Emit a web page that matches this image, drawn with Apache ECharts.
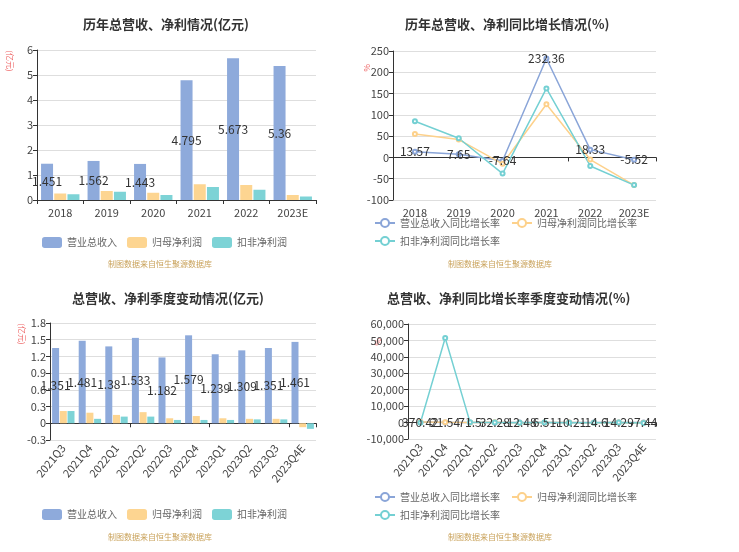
<!DOCTYPE html>
<html><head><meta charset="utf-8">
<script src="https://cdn.jsdelivr.net/npm/echarts@6/dist/echarts.min.js"></script>
<style>html,body{margin:0;padding:0;background:#fff;}#c{width:739px;height:552px;}</style>
</head><body><div id="c"></div>
<script>
const years = ['2018','2019','2020','2021','2022','2023E'];
const yearRevenue = [1.451,1.562,1.443,4.795,5.673,5.36];
const yearProfit = [0.26,0.36,0.29,0.63,0.60,0.20];
const yearDeducted = [0.23,0.33,0.20,0.52,0.41,0.14];
const yearRevenueYoy = [13.57,7.65,-7.64,232.36,18.33,-5.52];
const yearProfitYoy = [55,42,-15,125,-5,-65];
const yearDeductedYoy = [85,45,-38,162,-20,-65];
const quarters = ['2021Q3','2021Q4','2022Q1','2022Q2','2022Q3','2022Q4','2023Q1','2023Q2','2023Q3','2023Q4E'];
const qRevenue = [1.351,1.481,1.38,1.533,1.182,1.579,1.239,1.309,1.351,1.461];
const qProfit = [0.22,0.19,0.15,0.20,0.09,0.13,0.09,0.08,0.08,-0.07];
const qDeducted = [0.22,0.08,0.12,0.12,0.06,0.06,0.06,0.07,0.07,-0.10];
const qRevenueYoy = [370.42,21.54,71.5,32.28,-12.48,6.51,-10.21,-14.6,14.29,-7.44];
const qProfitYoy = [420,150,60,150,-60,-30,-10,-60,-10,-150];
const qDeductedYoy = [-60,51500,250,100,-50,-30,-50,-40,20,-240];

const F = '"Noto Sans CJK SC", "Noto Sans", sans-serif';
const C1 = '#8eaadb', C2 = '#fdd591', C3 = '#7dd3d6';
const L1 = '#8aa5d8', L2 = '#fdd18b', L3 = '#74d0d3';
const axisTxt = {color:'#444', fontSize:11, fontFamily:F};
const split = {show:true, lineStyle:{color:'#dedede'}};
const aLine = {show:true, lineStyle:{color:'#333'}};

function yAx(grid, min, max, interval){
  return {type:'value', gridIndex:grid, min, max, interval,
    axisLine:aLine, axisTick:{show:true, length:4, lineStyle:{color:'#333'}},
    axisLabel:Object.assign({margin:4}, axisTxt), splitLine:split};
}
function xLab(grid, data, rotate){
  return {type:'category', gridIndex:grid, data, position:'bottom',
    axisLine:{show:false, onZero:false}, axisTick:{show:false}, splitLine:{show:false},
    axisLabel:Object.assign({rotate:rotate||0, margin:rotate?6:7, interval:0}, axisTxt)};
}
function xZero(grid, data){
  return {type:'category', gridIndex:grid, data, position:'bottom',
    axisLine:{show:true, onZero:true, lineStyle:{color:'#333'}},
    axisTick:{show:true, length:4, lineStyle:{color:'#333'}},
    axisLabel:{show:false}, splitLine:{show:false}};
}
const barLabel = {show:true, position:'inside', color:'#333', fontSize:12, fontFamily:F};
const lineLabel = {show:true, position:'inside', color:'#333', fontSize:12, fontFamily:F};
function bar(name, data, xi, yi, color, w, label){
  return {type:'bar', name, data, xAxisIndex:xi, yAxisIndex:yi, barWidth:w, barGap:'10%',
    itemStyle:{color}, label: label ? barLabel : {show:false}};
}
function line(name, data, xi, yi, color, label){
  return {type:'line', name, data, xAxisIndex:xi, yAxisIndex:yi, symbol:'emptyCircle', symbolSize:4,
    lineStyle:{color, width:1.5}, itemStyle:{color, borderWidth:1.2}, label: label ? lineLabel : {show:false}};
}
const legTxt = {color:'#666', fontSize:10, fontFamily:F};
function barLegend(left, top){
  return {left, top, itemWidth:20, itemHeight:11, itemGap:10, icon:'roundRect', textStyle:legTxt,
    data:['营业总收入','归母净利润','扣非净利润']};
}
function lineLegend(left, top, names){
  return {left, top, itemWidth:20, itemHeight:10, itemGap:11, textStyle:legTxt, data:names};
}
const titleStyle = {fontSize:13, fontWeight:'bold', color:'#333', fontFamily:F};
function wm(x, y){
  return {type:'text', x, y, style:{text:'制图数据来自恒生聚源数据库', fill:'#c9a25a', font:'8px ' + F, align:'center', verticalAlign:'middle'}};
}
function aname(x, y, text){
  return {type:'text', x, y, rotation:-Math.PI/2, style:{text, fill:'#ee6666', font:'8px ' + F, align:'center', verticalAlign:'middle'}};
}

const option = {
  animation:false,
  backgroundColor:'#fff',
  title:[
    {text:'历年总营收、净利情况(亿元)', left:78, top:13, textStyle:titleStyle},
    {text:'历年总营收、净利同比增长情况(%)', left:400, top:13, textStyle:titleStyle},
    {text:'总营收、净利季度变动情况(亿元)', left:67, top:287, textStyle:titleStyle},
    {text:'总营收、净利同比增长率季度变动情况(%)', left:382, top:287, textStyle:titleStyle}
  ],
  legend:[
    barLegend(37, 232),
    lineLegend(369, 213, ['营业总收入同比增长率','归母净利润同比增长率']),
    lineLegend(369, 231, ['扣非净利润同比增长率']),
    barLegend(37, 504),
    lineLegend(369, 487, ['营业总收入同比增长率','归母净利润同比增长率']),
    lineLegend(369, 505, ['扣非净利润同比增长率'])
  ],
  grid:[
    {left:37, top:50, width:279, height:150},
    {left:393, top:51, width:263, height:149},
    {left:50, top:323, width:266, height:117},
    {left:408, top:324, width:248, height:115}
  ],
  xAxis:[
    Object.assign(xLab(0, years), {axisLine:{show:true, onZero:true, lineStyle:{color:'#333'}}, axisTick:{show:true, length:4, lineStyle:{color:'#333'}}}),
    xLab(1, years), xZero(1, years),
    xLab(2, quarters, 50), xZero(2, quarters),
    xLab(3, quarters, 50), xZero(3, quarters)
  ],
  yAxis:[
    yAx(0, 0, 6, 1),
    yAx(1, -100, 250, 50),
    yAx(2, -0.3, 1.8, 0.3),
    yAx(3, -10000, 60000, 10000)
  ],
  graphic:[
    wm(160, 264), wm(500, 264), wm(160, 537), wm(500, 537),
    aname(10, 61, '(亿元)'), aname(367, 68, '%'), aname(22, 334, '(亿元)'), aname(378, 342, '%')
  ],
  series:[
    bar('营业总收入', yearRevenue, 0, 0, C1, 12, true),
    bar('归母净利润', yearProfit, 0, 0, C2, 12, false),
    bar('扣非净利润', yearDeducted, 0, 0, C3, 12, false),
    line('营业总收入同比增长率', yearRevenueYoy, 1, 1, L1, true),
    line('归母净利润同比增长率', yearProfitYoy, 1, 1, L2, false),
    line('扣非净利润同比增长率', yearDeductedYoy, 1, 1, L3, false),
    bar('营业总收入', qRevenue, 3, 2, C1, 7, true),
    bar('归母净利润', qProfit, 3, 2, C2, 7, false),
    bar('扣非净利润', qDeducted, 3, 2, C3, 7, false),
    line('营业总收入同比增长率', qRevenueYoy, 5, 3, L1, true),
    line('归母净利润同比增长率', qProfitYoy, 5, 3, L2, false),
    line('扣非净利润同比增长率', qDeductedYoy, 5, 3, L3, false)
  ]
};
const chart = echarts.init(document.getElementById('c'), null, {renderer:'canvas'});
chart.setOption(option);
</script></body></html>
